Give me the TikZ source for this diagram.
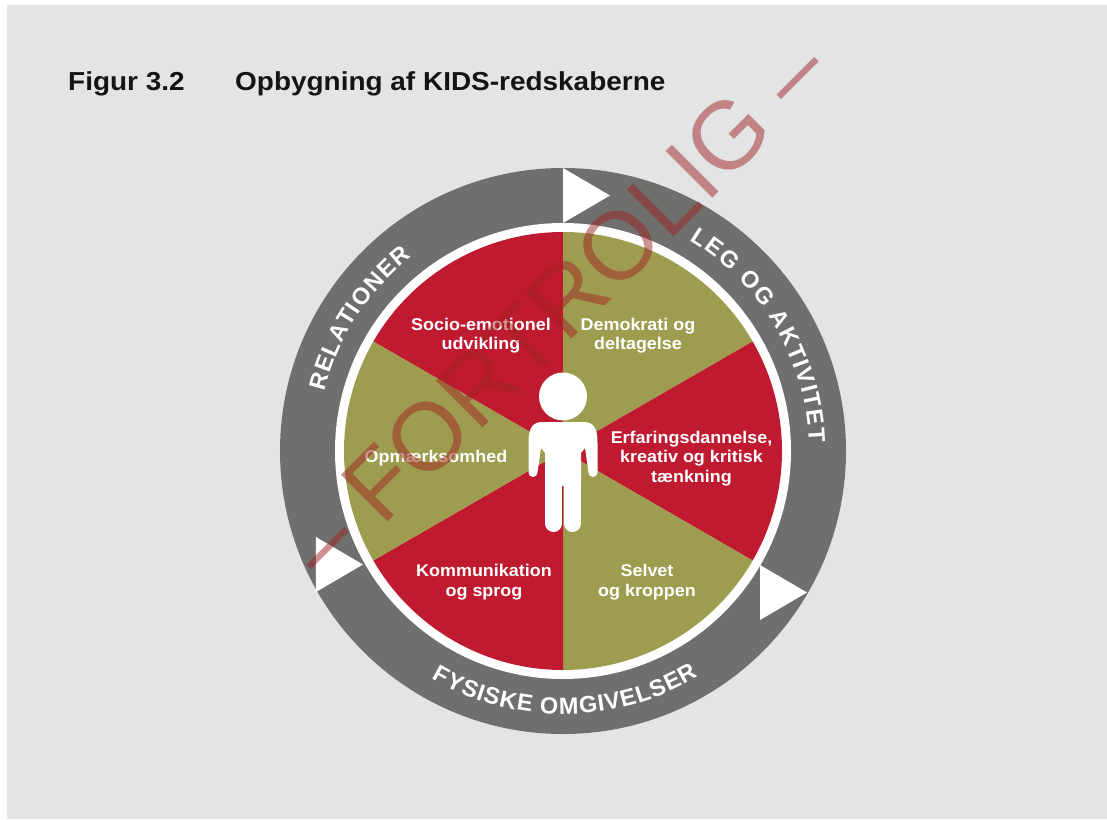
\documentclass[tikz,border=0pt]{standalone}
\usepackage{fontspec}
\setmainfont{Liberation Sans}
\newfontfamily\titlefont{Liberation Sans}[FakeStretch=1.075]
\newfontfamily\labelfont{Liberation Sans}[FakeStretch=1.055]
\usetikzlibrary{decorations.text}
\definecolor{pagegray}{RGB}{227,228,230}
\definecolor{ringgray}{RGB}{111,111,110}
\definecolor{kidsred}{RGB}{192,26,48}
\definecolor{kidsolive}{RGB}{158,157,79}
\definecolor{stampred}{RGB}{160,35,35}
\tikzset{x=1pt, y=1pt,
 title text/.style={font=\fontsize{26}{30}\titlefont\bfseries, text=black!92, anchor=base west, inner sep=0pt},
 sector label/.style={text=white, font=\fontsize{17}{19.5}\labelfont\bfseries, align=center, inner sep=0pt},
 ring text/.style={decorate, font=\fontsize{23.5}{28}\selectfont\bfseries,
   decoration={text effects along path, text={#1}, text effects/.cd,
   text along path, fit text to path,
   characters={text=white, font=\fontsize{23.5}{28}\selectfont\bfseries}}},
 play/.style={fill=white},
 stamp/.style={text=stampred, opacity=.5, font=\fontsize{96}{110}\selectfont, rotate=45, inner sep=0pt},
 }

\begin{document}
\begin{tikzpicture}
        \useasboundingbox (-563,-368) rectangle (544,451);
        \fill[white] (-563,-368) rectangle (544,451);
        \fill[pagegray] (-556,-368) rectangle (544,446);

        \node[title text] (fignum) at (-495,360) {Figur 3.2};
        \node[title text] (figtitle) at (-328,360) {Opbygning af KIDS-redskaberne};

        % ring and wheel
        \fill[ringgray] (0,0) circle[radius=283];
        \fill[white] (0,0) circle[radius=228];
        \foreach \from/\col in {90/kidsred, 30/kidsolive, -30/kidsred, -90/kidsolive, -150/kidsred, 150/kidsolive}
            \fill[\col] (0,0) -- (\from:219) arc[start angle=\from, end angle=\from+60, radius=219] -- cycle;
        \foreach \bx/\by in {0/283, 197/-114, -247/-86}
            \fill[play] (\bx,\by) -- ++(0,-55) -- ++(47,27.5) -- cycle;

        \path[ring text=RELATIONER] (166:246) arc[start angle=166, end angle=128, radius=246];
        \path[ring text=LEG OG AKTIVITET] (59:246) arc[start angle=59, end angle=2, radius=246];
        \path[ring text=FYSISKE OMGIVELSER] (240:263) arc[start angle=240, end angle=301, radius=263];

        \node[sector label] (socio) at (-82,115.5) {Socio-emotionel\\udvikling};
        \node[sector label] (demo) at (75,115.5) {Demokrati og\\deltagelse};
        \node[sector label] (erfar) at (128.5,-7.2) {Erfaringsdannelse,\\kreativ og kritisk\\tænkning};
        \node[sector label] (selv) at (84,-131.2) {Selvet\\og kroppen};
        \node[sector label] (komm) at (-79,-131.2) {Kommunikation\\og sprog};
        \node[sector label] (opm) at (-127,-6.7) {Opmærksomhed};

        % child
        \fill[white] (0,54.5) circle[radius=24];
        \fill[white] (-34.5,-21.5) arc[start angle=180, end angle=360, radius=4.5] -- (-22,3) -- (-18,-2)
            -- (-18,-35) -- (18,-35) -- (18,-2) -- (22,3) -- (25.5,-21.5)
            arc[start angle=180, end angle=360, radius=4.5] -- (34.5,8)
            .. controls (34.5,24) and (30,29) .. (20,29) -- (-20,29)
            .. controls (-30,29) and (-34.5,24) .. (-34.5,8) -- cycle;
        \draw[white, line width=17pt, line cap=round] (-9.5,-30) -- (-9.5,-72.5);
        \draw[white, line width=17pt, line cap=round] (9.5,-30) -- (9.5,-72.5);

        \node[stamp] (fortrolig) at (-6,144) {– FORTROLIG –};
\end{tikzpicture}
\end{document}
